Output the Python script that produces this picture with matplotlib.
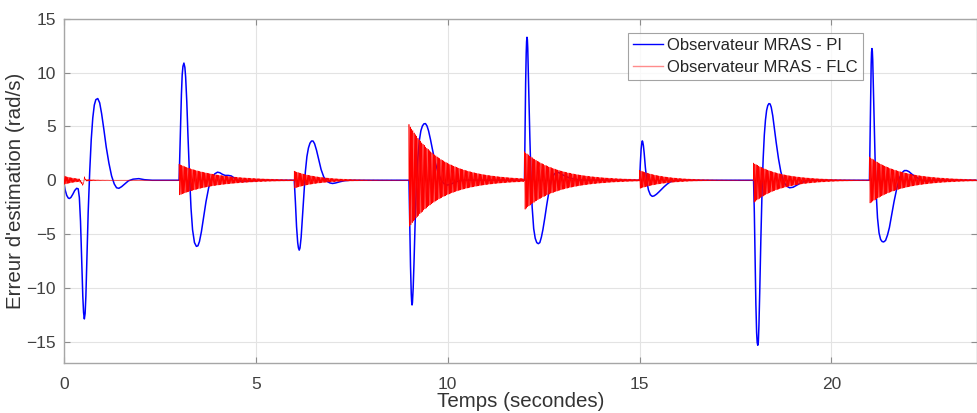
import numpy as np
import matplotlib
matplotlib.use("Agg")
import matplotlib.pyplot as plt

plt.rcParams['font.family'] = ['Liberation Sans', 'DejaVu Sans']

# ---- Blue series (Observateur MRAS - PI): key points per transient ----
pi_t0 = [0.0, 0.03, 0.07, 0.11, 0.14, 0.18, 0.23, 0.28, 0.33, 0.37, 0.40, 0.43, 0.46, 0.49, 0.51, 0.53, 0.55, 0.57, 0.60, 0.63, 0.67, 0.71, 0.75, 0.79, 0.83, 0.88, 0.93, 0.98, 1.04, 1.10, 1.17, 1.24, 1.31, 1.37, 1.43, 1.50, 1.58, 1.68, 1.80, 1.95, 2.1, 2.3]
pi_y0 = [-0.3, -0.9, -1.4, -1.65, -1.7, -1.6, -1.3, -0.95, -0.75, -0.8, -1.6, -3.8, -7.2, -10.8, -12.3, -12.9, -12.4, -10.8, -7.0, -3.0, 0.8, 3.8, 5.8, 7.0, 7.5, 7.6, 7.2, 6.2, 4.7, 3.1, 1.6, 0.4, -0.35, -0.7, -0.75, -0.6, -0.35, -0.05, 0.1, 0.15, 0.05, 0.0]
pi_t3 = [3.0, 3.03, 3.06, 3.08, 3.10, 3.125, 3.15, 3.17, 3.20, 3.23, 3.27, 3.31, 3.35, 3.40, 3.45, 3.49, 3.53, 3.58, 3.64, 3.70, 3.77, 3.85, 3.93, 4.0, 4.06, 4.13, 4.2, 4.28, 4.36, 4.44, 4.52, 4.62, 4.75, 4.9, 5.05]
pi_y3 = [0.0, 4.0, 8.0, 9.8, 10.6, 10.9, 10.5, 9.6, 7.3, 4.2, 0.5, -2.6, -4.6, -5.8, -6.15, -6.1, -5.7, -4.8, -3.4, -2.0, -0.7, 0.2, 0.6, 0.75, 0.7, 0.55, 0.45, 0.45, 0.4, 0.2, 0.0, -0.1, -0.1, -0.05, 0.0]
pi_t6 = [6.0, 6.03, 6.06, 6.09, 6.11, 6.13, 6.15, 6.18, 6.21, 6.25, 6.29, 6.33, 6.37, 6.41, 6.45, 6.49, 6.53, 6.58, 6.64, 6.70, 6.77, 6.85, 6.93, 7.0, 7.08, 7.18, 7.3, 7.45]
pi_y6 = [0.0, -2.0, -4.3, -5.8, -6.3, -6.5, -6.3, -5.3, -3.6, -1.2, 0.8, 2.2, 3.0, 3.45, 3.65, 3.65, 3.4, 2.8, 1.9, 1.0, 0.3, -0.1, -0.25, -0.3, -0.25, -0.15, -0.05, 0.0]
pi_t9 = [8.99, 9.01, 9.03, 9.05, 9.06, 9.07, 9.08, 9.10, 9.12, 9.15, 9.18, 9.22, 9.26, 9.30, 9.34, 9.38, 9.42, 9.46, 9.50, 9.55, 9.60, 9.67, 9.75, 9.83, 9.9, 9.98, 10.05, 10.15, 10.25, 10.4, 10.55]
pi_y9 = [0.0, -4.0, -8.0, -10.6, -11.3, -11.6, -11.4, -10.0, -7.8, -4.0, -0.8, 2.0, 3.7, 4.6, 5.05, 5.25, 5.27, 5.05, 4.6, 3.8, 2.9, 1.7, 0.7, 0.0, -0.3, -0.45, -0.4, -0.25, -0.1, 0.0, 0.0]
pi_t12 = [12.0, 12.015, 12.03, 12.045, 12.055, 12.065, 12.075, 12.085, 12.1, 12.12, 12.14, 12.17, 12.2, 12.24, 12.28, 12.32, 12.36, 12.4, 12.44, 12.48, 12.53, 12.58, 12.64, 12.7, 12.77, 12.84, 12.9, 12.97, 13.05, 13.15, 13.3, 13.45, 13.6]
pi_y12 = [0.0, 4.5, 9.0, 11.8, 12.9, 13.3, 13.1, 12.3, 10.2, 7.0, 4.0, 0.2, -2.5, -4.5, -5.4, -5.8, -5.9, -5.8, -5.3, -4.6, -3.5, -2.3, -1.0, 0.0, 0.55, 0.75, 0.7, 0.55, 0.4, 0.25, 0.1, 0.03, 0.0]
pi_t15 = [15.0, 15.02, 15.04, 15.06, 15.07, 15.08, 15.10, 15.12, 15.15, 15.19, 15.23, 15.28, 15.33, 15.38, 15.44, 15.50, 15.57, 15.64, 15.72, 15.8, 15.9, 16.0]
pi_y15 = [0.0, 1.6, 2.9, 3.55, 3.66, 3.6, 3.2, 2.5, 1.2, -0.1, -0.9, -1.35, -1.5, -1.45, -1.3, -1.1, -0.85, -0.6, -0.35, -0.15, -0.05, 0.0]
pi_t18 = [17.97, 17.99, 18.01, 18.03, 18.05, 18.065, 18.08, 18.095, 18.11, 18.13, 18.16, 18.19, 18.22, 18.25, 18.28, 18.31, 18.34, 18.37, 18.40, 18.43, 18.47, 18.51, 18.56, 18.62, 18.68, 18.75, 18.83, 18.91, 19.0, 19.1, 19.2, 19.35, 19.5, 19.7]
pi_y18 = [0.0, -3.0, -7.5, -11.5, -14.2, -15.1, -15.35, -15.0, -13.5, -10.5, -5.5, -1.2, 2.0, 4.2, 5.6, 6.5, 6.95, 7.13, 7.1, 6.8, 6.0, 4.9, 3.5, 2.0, 0.8, -0.1, -0.55, -0.7, -0.65, -0.45, -0.25, -0.05, 0.0, 0.0]
pi_t21 = [20.99, 21.005, 21.02, 21.035, 21.045, 21.055, 21.065, 21.075, 21.09, 21.11, 21.14, 21.17, 21.2, 21.24, 21.28, 21.32, 21.36, 21.41, 21.46, 21.51, 21.57, 21.63, 21.7, 21.77, 21.84, 21.9, 21.96, 22.02, 22.1, 22.2, 22.3, 22.4, 22.5, 22.7, 23.8]
pi_y21 = [0.0, 3.8, 7.8, 10.8, 11.9, 12.25, 12.0, 11.2, 9.0, 5.7, 1.5, -1.5, -3.5, -4.9, -5.5, -5.7, -5.74, -5.6, -5.1, -4.4, -3.2, -2.0, -0.8, 0.2, 0.7, 0.9, 0.9, 0.8, 0.55, 0.3, 0.1, -0.05, -0.06, 0.0, 0.0]

# ---- Red series (Observateur MRAS - FLC): oscillating decaying bursts ----
flc_start = [0.0, 3.0, 6.0, 8.99, 12.0, 15.0, 17.97, 20.99]
flc_amp_hi = [0.4, 1.5, 0.8, 5.2, 2.7, 0.85, 1.6, 2.2]
flc_amp_lo = [0.4, 1.4, 0.7, 4.4, 2.8, 0.7, 2.1, 2.2]
flc_tau = [0.35, 0.9, 0.6, 0.85, 0.85, 0.6, 0.7, 0.8]
flc_freq = 30.0
flc_notch_t = [0.40, 0.45, 0.50, 0.53, 0.57]
flc_notch_y = [0.0, -0.2, -0.45, 0.25, 0.0]

x_ticks = [0, 5, 10, 15, 20]
y_ticks = [-15, -10, -5, 0, 5, 10, 15]

labels = ["Observateur MRAS - PI", "Observateur MRAS - FLC"]

# build blue
pi_t = np.concatenate([pi_t0, pi_t3, pi_t6, pi_t9, pi_t12, pi_t15, pi_t18, pi_t21])
pi_y = np.concatenate([pi_y0, pi_y3, pi_y6, pi_y9, pi_y12, pi_y15, pi_y18, pi_y21])

# build red
t = np.arange(0, 23.8, 0.002)
y = np.zeros_like(t)
for s, hi, lo, tau in zip(flc_start, flc_amp_hi, flc_amp_lo, flc_tau):
    m = t >= s
    dt = t[m] - s
    env = np.exp(-dt / tau)
    sn = np.sin(2 * np.pi * flc_freq * dt + np.pi / 2)
    y[m] += env * np.where(sn > 0, hi * sn, lo * sn)
y += np.interp(t, flc_notch_t, flc_notch_y, left=0, right=0)

fig = plt.figure(figsize=(9.77, 4.13), dpi=100)
ax = fig.add_axes([64 / 977, 1 - 363 / 413, 1 - 64 / 977 - 0.0005, (363 - 19) / 413])

ax.plot(pi_t, pi_y, color='#0000ff', lw=1.1, label=labels[0], zorder=2)
ax.plot(t, y, color='#ff0000', lw=0.45, label=labels[1], zorder=3)

ax.set_xlim(0, 23.78)
ax.set_ylim(-17, 15)
ax.set_xticks(x_ticks)
ax.set_yticks(y_ticks)
ax.grid(True, color='#e3e3e3', lw=0.8)
ax.set_axisbelow(True)
for sp in ax.spines.values():
    sp.set_color('#a6a6a6')
    sp.set_linewidth(1.0)
ax.tick_params(direction='in', length=4, width=0.8, color='#8c8c8c',
               labelsize=12.5, labelcolor='#404040', top=True, right=True)
ax.tick_params(axis='x', pad=10)
ax.tick_params(axis='y', pad=6)
ax.set_xlabel("Temps (secondes)", fontsize=14.8, color='#333333', labelpad=0)
ax.set_ylabel("Erreur d'estimation (rad/s)", fontsize=14.8, color='#333333', labelpad=1)

leg = ax.legend(loc='upper left', bbox_to_anchor=(628 / 977, 1 - 33 / 413),
                bbox_transform=fig.transFigure, borderaxespad=0, fontsize=12,
                frameon=True, fancybox=False, handlelength=1.8, handletextpad=0.25,
                borderpad=0.3, labelspacing=0.4)
leg.get_frame().set_edgecolor('#8c8c8c')
leg.get_frame().set_linewidth(0.8)
leg_lines = leg.get_lines()
leg_lines[0].set_linewidth(1.0)
leg_lines[1].set_color('#ff8c8c')
leg_lines[1].set_linewidth(1.0)
for txt in leg.get_texts():
    txt.set_color('#262626')

fig.savefig("out.png", dpi=100)
